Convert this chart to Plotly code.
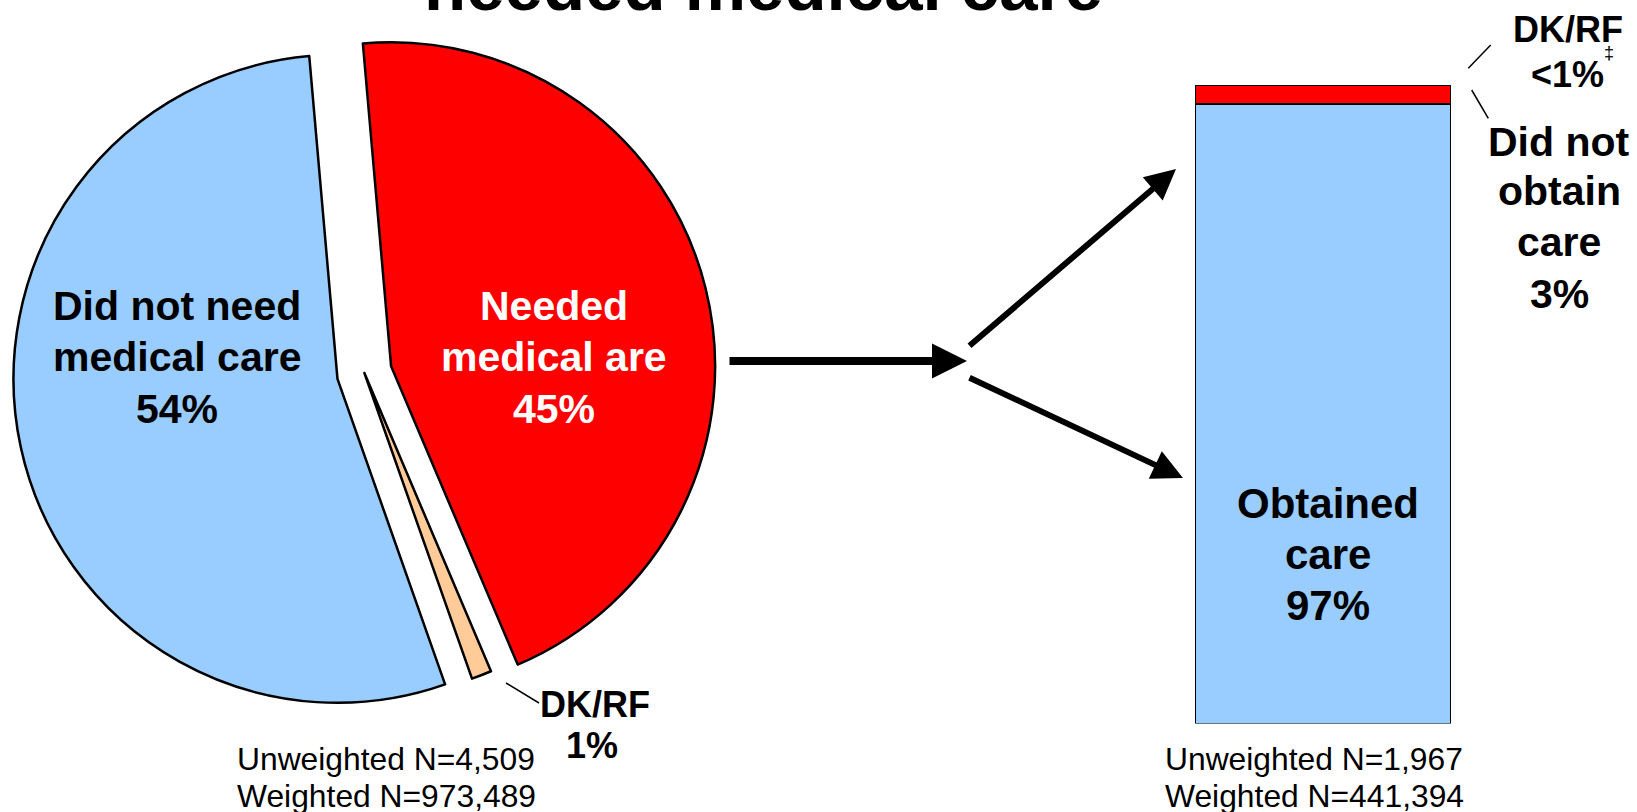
import plotly.graph_objects as go

W, H = 1637, 812

# ---------------- data ----------------
pie_labels = ["Needed medical are", "DK/RF", "Did not need medical care"]
pie_values = [45, 1, 54]
pie_colors = ["#FF0000", "#FFCC99", "#99CCFF"]
pie_pull = [0.085, 0.0, 0.085]

bar_labels = ["Obtained care", "Did not obtain care"]
bar_values = [97, 3]
bar_colors = ["#99CCFF", "#FF0000"]
dkrf_bar_text = "<1%"

title_text = "needed medical care"
left_n = ["Unweighted N=4,509", "Weighted N=973,489"]
right_n = ["Unweighted N=1,967", "Weighted N=441,394"]

FONT = "Arial, Liberation Sans, Helvetica, sans-serif"


def px(x):
    return x / W


def py(y):
    return 1 - y / H


fig = go.Figure()

# ---------------- pie ----------------
cx, cy, R = 364.4, 373.0, 324.0
half = R * (1 + max(pie_pull))
fig.add_trace(go.Pie(
    labels=pie_labels, values=pie_values, sort=False, direction="clockwise",
    rotation=-5, pull=pie_pull, textinfo="none", hoverinfo="label+percent",
    marker=dict(colors=pie_colors, line=dict(color="black", width=2.5)),
    domain=dict(x=[px(cx - half), px(cx + half)], y=[py(cy + half), py(cy - half)]),
    showlegend=False,
))

# ---------------- stacked bar ----------------
for lab, val, col in zip(bar_labels, bar_values, bar_colors):
    fig.add_trace(go.Bar(
        x=[0], y=[val], name=lab, width=1, marker=dict(color=col, line=dict(color="black", width=2)),
        showlegend=False, hoverinfo="name+y",
    ))

fig.update_layout(
    width=W, height=H, barmode="stack",
    margin=dict(l=0, r=0, t=0, b=0),
    paper_bgcolor="white", plot_bgcolor="rgba(0,0,0,0)",
    font=dict(family=FONT, color="black"),
    xaxis=dict(domain=[px(1195), px(1451)], range=[-0.5, 0.5], visible=False, fixedrange=True),
    yaxis=dict(domain=[py(723.5), py(85)], range=[0, 100], visible=False, fixedrange=True),
)

annotations = []


def text(s, x, baseline, size, color="black", bold=True, anchor="center"):
    yc = baseline - 0.3465 * size
    xx = x - 2 if anchor == "left" else x
    annotations.append(dict(
        text=s, x=px(xx), y=py(yc), xref="paper", yref="paper",
        xanchor=anchor, yanchor="middle", showarrow=False,
        font=dict(family=FONT, size=size, color=color, weight="bold" if bold else "normal"),
    ))


# title (partly cut off at the top)
text(title_text, 763, 10, 69)

# pie labels
blue_lines = ["Did not need", "medical care", f"{pie_values[2]}%"]
red_lines = ["Needed", "medical are", f"{pie_values[0]}%"]
for line, b in zip(blue_lines, [320.6, 371.5, 423]):
    text(line, 177, b, 41)
for line, b in zip(red_lines, [320.6, 371.5, 423]):
    text(line, 554, b, 41, color="white")
text(pie_labels[1], 595, 717.4, 36)
text(f"{pie_values[1]}%", 592, 758.3, 36)

# bar labels
for line, b in zip(["Obtained", "care", f"{bar_values[0]}%"], [518.3, 569.3, 620]):
    text(line, 1328, b, 42)
for line, b in zip(["Did not", "obtain", "care", f"{bar_values[1]}%"], [156.7, 205, 256, 308.3]):
    text(line, 1559, b, 41)
text("DK/RF", 1568, 41.7, 36)
text(dkrf_bar_text, 1567.5, 87.3, 36)
annotations.append(dict(text="‡", x=px(1616), y=py(41), xref="paper", yref="paper",
                        showarrow=False, font=dict(family=FONT, size=18, color="black")))

# sample sizes
for line, b in zip(left_n, [770, 807]):
    text(line, 237, b, 31.8, bold=False, anchor="left")
for line, b in zip(right_n, [770, 807]):
    text(line, 1165, b, 31.8, bold=False, anchor="left")


# arrows
def arrow(tx, ty, hx, hy, w, size):
    annotations.append(dict(
        text="", x=px(hx), y=py(hy), xref="paper", yref="paper",
        ax=tx - hx, ay=ty - hy, axref="pixel", ayref="pixel",
        showarrow=True, arrowhead=2, arrowwidth=w, arrowsize=size, arrowcolor="black",
        standoff=0, startstandoff=0,
    ))


arrow(728, 361, 967, 361, 8, 0.875)
arrow(968, 347, 1176, 169, 6, 1.02)
arrow(968, 377, 1183, 478, 6, 1.02)

# leader lines
shapes = []
for (x0, y0, x1, y1) in [(506, 683, 539, 703), (1468.3, 68.3, 1490.7, 45), (1471.7, 90, 1488.3, 118.3)]:
    shapes.append(dict(type="line", xref="paper", yref="paper",
                       x0=px(x0), y0=py(y0), x1=px(x1), y1=py(y1),
                       line=dict(color="black", width=1.5)))

fig.update_layout(annotations=annotations, shapes=shapes)
fig.write_html(
    "out.html",
    config={"displayModeBar": False},
    post_script="document.body.style.margin='0px';document.documentElement.style.overflow='hidden';",
)
